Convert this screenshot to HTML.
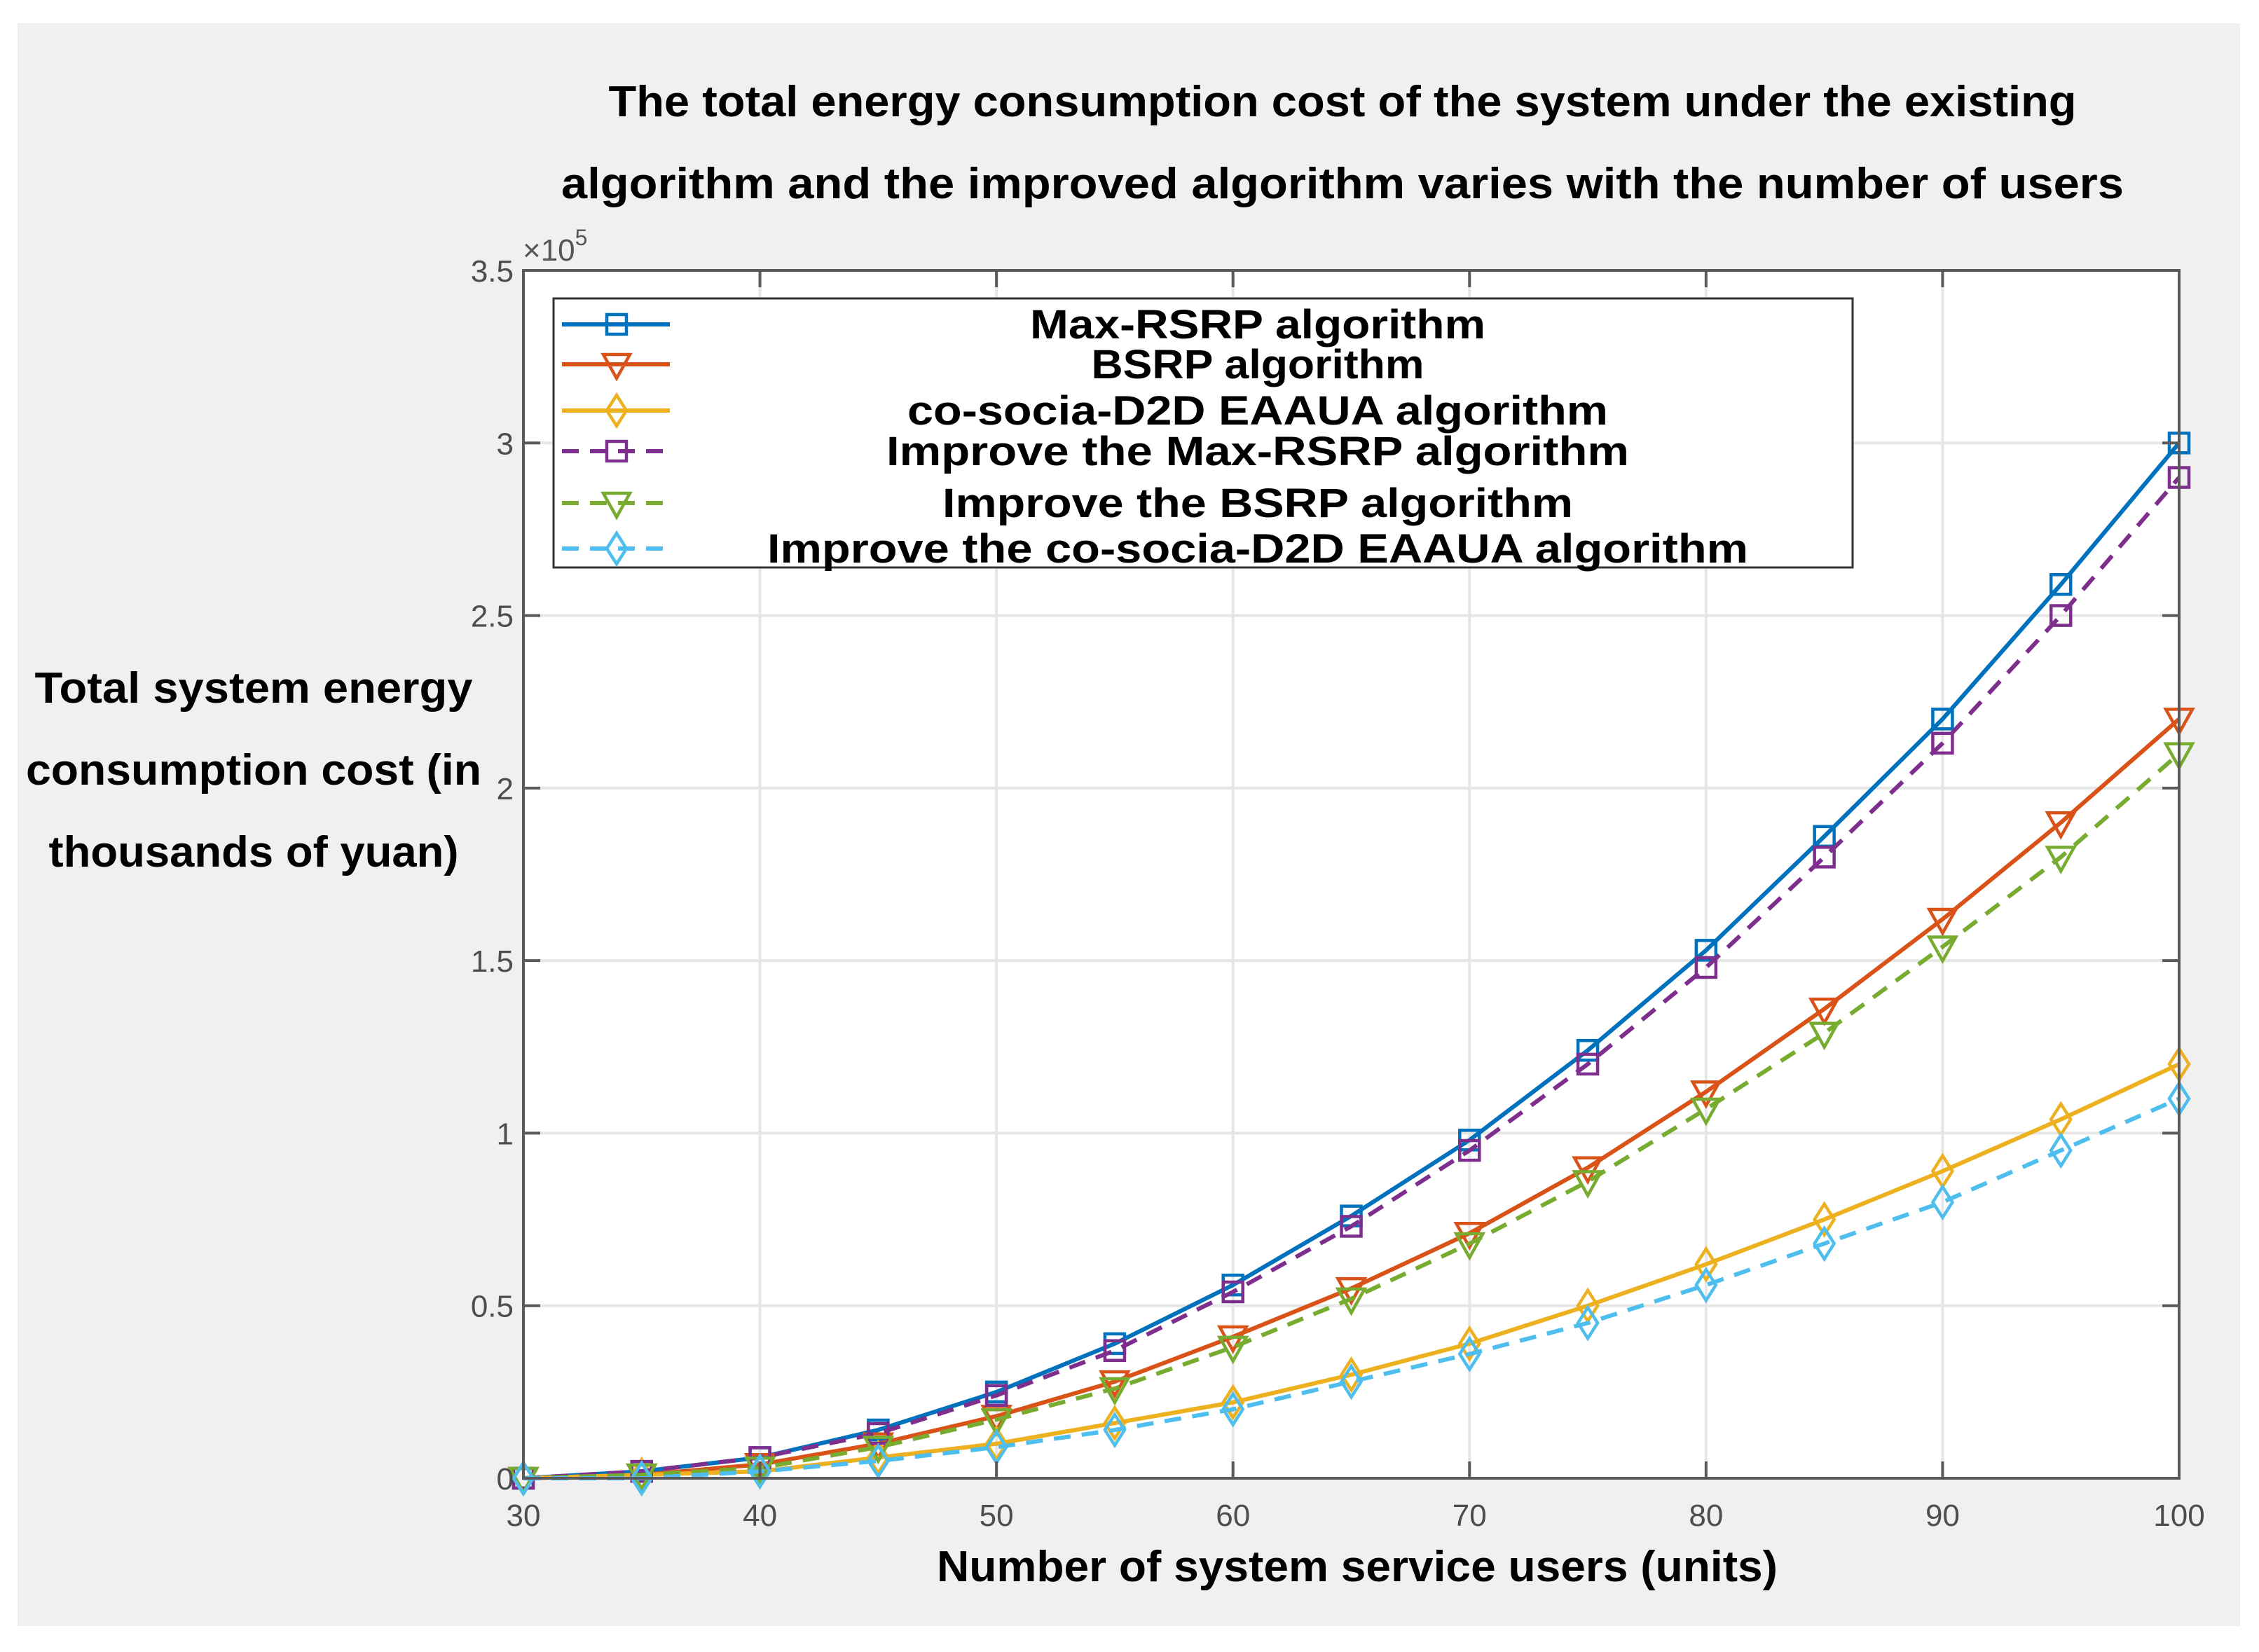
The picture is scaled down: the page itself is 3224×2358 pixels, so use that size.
<!DOCTYPE html>
<html><head><meta charset="utf-8"><style>
html,body{margin:0;padding:0;background:#fff;}
svg{display:block;font-family:"Liberation Sans",sans-serif;}
</style></head><body>
<svg id="chart" width="3224" height="2358" viewBox="0 0 3224 2358" xmlns="http://www.w3.org/2000/svg">
<rect x="25" y="33" width="3172" height="2288" fill="#f0f0f0"/>
<rect x="747" y="386" width="2363" height="1724" fill="#ffffff"/>
<g id="grid"></g>
<g id="series"></g>
<rect x="747" y="386" width="2363" height="1724" fill="none" stroke="#5a5a5a" stroke-width="4"/>
<g id="ticks"></g>
<text x="746" y="372" font-size="44" fill="#555">×10<tspan dy="-22" font-size="32">5</tspan></text>
<g font-weight="bold" font-size="62" fill="#000" text-anchor="middle">
<text x="1916" y="166" textLength="2095" lengthAdjust="spacingAndGlyphs">The total energy consumption cost of the system under the existing</text>
<text x="1916" y="283" textLength="2230" lengthAdjust="spacingAndGlyphs">algorithm and the improved algorithm varies with the number of users</text>
<text x="362" y="1003" textLength="625" lengthAdjust="spacingAndGlyphs">Total system energy</text>
<text x="362" y="1120" textLength="650" lengthAdjust="spacingAndGlyphs">consumption cost (in</text>
<text x="362" y="1237" textLength="585" lengthAdjust="spacingAndGlyphs">thousands of yuan)</text>
<text x="1937" y="2257" textLength="1200" lengthAdjust="spacingAndGlyphs">Number of system service users (units)</text>
</g>
<g id="legend">
<rect x="790" y="426" width="1854" height="384" fill="#fff" stroke="#333" stroke-width="3"/>
</g>
</svg>
<script>
const xValues=[30,35,40,45,50,55,60,65,70,75,80,85,90,95,100];
const maxRsrp=[0,0.02,0.06,0.14,0.25,0.39,0.56,0.76,0.98,1.24,1.53,1.86,2.2,2.59,3.0];
const bsrp=[0,0.01,0.04,0.1,0.18,0.28,0.41,0.55,0.71,0.9,1.12,1.36,1.62,1.9,2.2];
const cosocia=[0,0.01,0.02,0.06,0.1,0.16,0.22,0.3,0.39,0.5,0.62,0.75,0.89,1.04,1.2];
const impMaxRsrp=[0,0.02,0.06,0.13,0.24,0.37,0.54,0.73,0.95,1.2,1.48,1.8,2.13,2.5,2.9];
const impBsrp=[0,0.01,0.03,0.09,0.17,0.26,0.38,0.52,0.68,0.86,1.07,1.29,1.54,1.8,2.1];
const impCosocia=[0,0,0.02,0.05,0.09,0.14,0.2,0.28,0.36,0.45,0.56,0.68,0.8,0.95,1.1];
const seriesNames=["Max-RSRP algorithm","BSRP algorithm","co-socia-D2D EAAUA algorithm","Improve the Max-RSRP algorithm","Improve the BSRP algorithm","Improve the co-socia-D2D EAAUA algorithm"];
const xTicks=[30,40,50,60,70,80,90,100];
const yTicks=[0,0.5,1,1.5,2,2.5,3,3.5];
const yTickLabels=["0","0.5","1","1.5","2","2.5","3","3.5"];

const NS="http://www.w3.org/2000/svg";
const L=747,R=3110,T=386,B=2110;
const xs=v=>L+(v-30)/70*(R-L);
const ys=v=>B-v/3.5*(B-T);
function mk(tag,attrs,parent){const e=document.createElementNS(NS,tag);for(const k in attrs)e.setAttribute(k,attrs[k]);parent.appendChild(e);return e;}
const grid=document.getElementById('grid'),ticks=document.getElementById('ticks'),ser=document.getElementById('series'),leg=document.getElementById('legend');
xTicks.forEach(v=>{
 const g=mk('line',{x1:xs(v),x2:xs(v),y1:T,y2:B,stroke:'#e6e6e6','stroke-width':4},grid);
 
 
 const t1=mk('line',{x1:xs(v),x2:xs(v),y1:B,y2:B-24,stroke:'#5a5a5a','stroke-width':4},ticks);
 
 
 const t2=mk('line',{x1:xs(v),x2:xs(v),y1:T,y2:T+24,stroke:'#5a5a5a','stroke-width':4},ticks);
 
 
 const lb=mk('text',{x:xs(v),y:B+68,'font-size':44,fill:'#4d4d4d','text-anchor':'middle'},ticks);
 lb.textContent=v;
 
 
});
yTicks.forEach((v,i)=>{
 const g=mk('line',{x1:L,x2:R,y1:ys(v),y2:ys(v),stroke:'#e6e6e6','stroke-width':4},grid);
 
 
 const t1=mk('line',{x1:L,x2:L+24,y1:ys(v),y2:ys(v),stroke:'#5a5a5a','stroke-width':4},ticks);
 
 
 const t2=mk('line',{x1:R,x2:R-24,y1:ys(v),y2:ys(v),stroke:'#5a5a5a','stroke-width':4},ticks);
 
 
 const lb=mk('text',{x:L-14,y:ys(v)+16,'font-size':44,fill:'#4d4d4d','text-anchor':'end'},ticks);
 lb.textContent=yTickLabels[i];
 
 
});
const allSeries=[maxRsrp,bsrp,cosocia,impMaxRsrp,impBsrp,impCosocia];
const colors=['#0072BD','#D95319','#EDB120','#7E2F8E','#77AC30','#4DBEEE'];
const markers=['square','tri','diamond','square','tri','diamond'];
const dashed=[false,false,false,true,true,true];
function marker(type,x,y,color,parent){
 let e;
 if(type==='square')e=mk('rect',{x:x-14,y:y-14,width:28,height:28,fill:'none',stroke:color,'stroke-width':4.5},parent);
 else if(type==='tri')e=mk('polygon',{points:`${x-19},${y-14} ${x+19},${y-14} ${x},${y+20}`,fill:'none',stroke:color,'stroke-width':4.5},parent);
 else e=mk('polygon',{points:`${x},${y-22} ${x+14},${y} ${x},${y+22} ${x-14},${y}`,fill:'none',stroke:color,'stroke-width':4.5},parent);
 return e;
}
allSeries.forEach((data,si)=>{
 const g=mk('g',{},ser);
 
 
 const pts=data.map((v,i)=>xs(xValues[i])+','+ys(v)).join(' ');
 const pl=mk('polyline',{points:pts,fill:'none',stroke:colors[si],'stroke-width':6,'stroke-linejoin':'round'},g);
 if(dashed[si])pl.setAttribute('stroke-dasharray','24,16');
 
 
 data.forEach((v,i)=>{
  const m=marker(markers[si],xs(xValues[i]),ys(v),colors[si],g);
  
  
 });
});
const legY=[463,520,586,644,718,783];
const textW=[650,475,1000,1060,900,1400];
seriesNames.forEach((n,i)=>{
 const y=legY[i];
 const ln=mk('line',{x1:802,x2:956,y1:y,y2:y,stroke:colors[i],'stroke-width':6},leg);
 if(dashed[i])ln.setAttribute('stroke-dasharray','24,16');
 
 
 const m=marker(markers[i],880,y,colors[i],leg);
 
 
 const t=mk('text',{x:1795,y:y+20,'font-size':58,'font-weight':'bold',fill:'#000','text-anchor':'middle',textLength:textW[i],lengthAdjust:'spacingAndGlyphs'},leg);
 t.textContent=n;
 
 
});
</script>
</body></html>
